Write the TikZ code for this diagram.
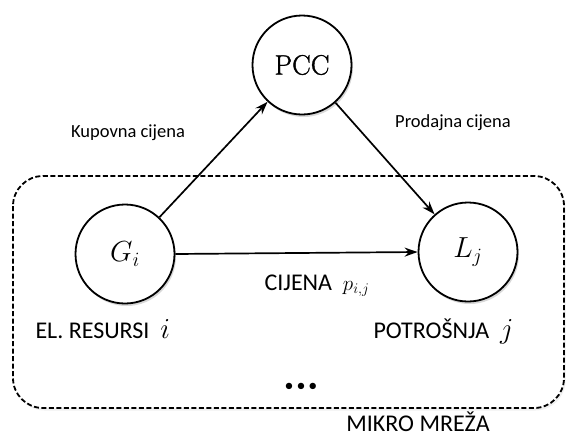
\RequirePackage{fix-cm}
\documentclass[tikz,border=0pt]{standalone}
\usepackage{fontspec}
\setsansfont{Carlito}
\newfontfamily\pccfont{Latin Modern Roman}[BoldFont={Latin Modern Roman},BoldFeatures={FakeBold=1.3}]
\usetikzlibrary{arrows.meta,shadows}
\tikzset{
  agent/.style={circle,draw=black,line width=1.8pt,fill=white,minimum size=99pt,inner sep=0pt,
    drop shadow={opacity=0.3,shadow xshift=1.5pt,shadow yshift=-2.5pt}},
  link/.style={line width=1.7pt,-{Stealth[length=13pt,width=9pt]}},
  small/.style={font=\sffamily\fontsize{18.5}{18.5}\selectfont},
  big/.style={font=\sffamily\fontsize{24}{24}\selectfont}
}
\begin{document}
\begin{tikzpicture}[x=1pt,y=-1pt]
\useasboundingbox (0,0) rectangle (567,437);
\draw[line width=1.8pt,dash pattern=on 5pt off 2.5pt,rounded corners=30pt,
  drop shadow={opacity=0.12,shadow xshift=1.5pt,shadow yshift=-2.5pt},fill=white]
  (13,176) rectangle (564,408);
\node[agent] (pcc) at (302,65) {\pccfont\bfseries\fontsize{28}{28}\selectfont PCC};
\node[agent] (g) at (125,254) {\fontsize{29}{29}\selectfont$G_i$};
\node[agent] (l) at (468,252) {\fontsize{29}{29}\selectfont$L_j$};
\draw[link] (g) -- (pcc);
\draw[link] (pcc) -- (l);
\draw[link] (g.east) -- (l.west);
\node[small] (kup) at (128,133) {Kupovna cijena};
\node[small] (pro) at (453,123) {Prodajna cijena};
\node[big,anchor=base west] (cij) at (261,290) {CIJENA \ \fontsize{21}{21}\selectfont$p_{i,j}$};
\node[big,anchor=base west] (res) at (32,338) {EL. RESURSI \ \fontsize{29}{29}\selectfont$i$};
\node[big,anchor=base west] (pot) at (370,338) {POTROŠNJA \ \fontsize{29}{29}\selectfont$j$};
\node[font=\sffamily\fontsize{18}{18}\selectfont,anchor=base] (dots) at (301,391) {\textbullet\hspace{3pt}\textbullet\hspace{3pt}\textbullet};
\node[big,anchor=base] (mm) at (418,431) {MIKRO MREŽA};
\end{tikzpicture}
\end{document}
